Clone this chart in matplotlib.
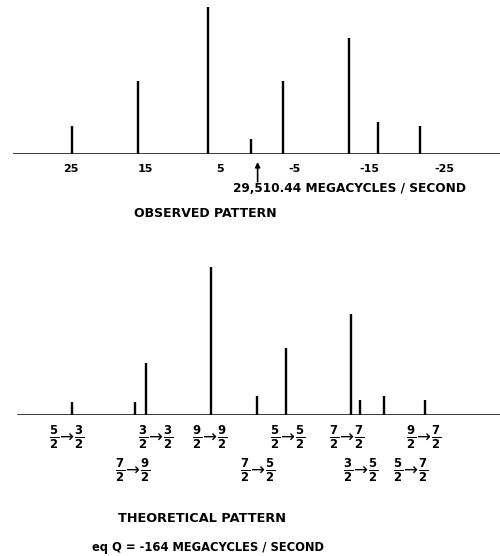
import numpy as np
import matplotlib.pyplot as plt

# observed pattern (frequency offset, relative intensity)
obs_freq = [24.9, 16.0, 6.6, 0.9, -3.4, -12.2, -16.2, -21.8]
obs_int = [19, 50, 100, 10, 50, 79, 22, 19]

# theoretical pattern
th_freq = [24.9, 16.4, 14.9, 6.3, 0.1, -3.8, -12.5, -13.7, -17.0, -22.5]
th_int = [9, 9, 35, 100, 13, 45, 68, 10, 13, 10]

tick_pos = [25, 15, 5, -5, -15, -25]
tick_labels = ['25', '15', '5', '-5', '-15', '-25']

# transition labels, row 1 and row 2
row1_pos = [25.6, 13.7, 6.4, -4.0, -12.0, -22.3]
row1_lab = [(5, 3), (3, 3), (9, 9), (5, 5), (7, 7), (9, 7)]
row2_pos = [16.8, 0.0, -13.8, -20.5]
row2_lab = [(7, 9), (7, 5), (3, 5), (5, 7)]

plt.rcParams['mathtext.fontset'] = 'dejavusans'

W, H = 500, 556
fig = plt.figure(figsize=(5, 5.56), dpi=100)

def px(x, y):
    return x / W, 1 - y / H

ax1 = fig.add_axes([13 / W, (H - 154) / H, 487 / W, 154 / H])
ax2 = fig.add_axes([13 / W, (H - 415) / H, 487 / W, 155 / H])

for ax in (ax1, ax2):
    ax.set_xlim(32.8, -32.5)
    for s in ax.spines.values():
        s.set_visible(False)
    ax.set_yticks([])

ax1.set_ylim(0, 104.8)
ax1.axhline(0, color='black', lw=1.8)
ax1.vlines(obs_freq, 0, obs_int, color='black', lw=1.7)
ax1.set_xticks(tick_pos)
ax1.set_xticklabels(tick_labels, fontsize=8, fontweight='bold')
ax1.tick_params(axis='x', length=0, pad=7)
ax1.annotate('', xy=(0, -5.5), xytext=(0, -19), xycoords='data',
             arrowprops=dict(arrowstyle='-|>', color='black', lw=1.2,
                             mutation_scale=7, shrinkA=0, shrinkB=0),
             annotation_clip=False)

ax2.set_ylim(0, 104.7)
ax2.axhline(0, xmin=5 / 487, color='black', lw=1.8)
ax2.vlines(th_freq, 0, th_int, color='black', lw=1.7)
ax2.set_xticks([])

def frac_label(a, b):
    return r'$\mathbf{\frac{%d}{2}}\!\rightarrow\!\mathbf{\frac{%d}{2}}$' % (a, b)

for f, (a, b) in zip(row1_pos, row1_lab):
    ax2.annotate(frac_label(a, b), xy=(f, 0), xytext=(0, -16), textcoords='offset points',
                 ha='center', va='center', fontsize=12, annotation_clip=False)
for f, (a, b) in zip(row2_pos, row2_lab):
    ax2.annotate(frac_label(a, b), xy=(f, 0), xytext=(0, -40), textcoords='offset points',
                 ha='center', va='center', fontsize=12, annotation_clip=False)

fig.text(*px(233, 189), '29,510.44 MEGACYCLES / SECOND', fontsize=8.7, fontweight='bold',
         ha='left', va='center')
fig.text(*px(205, 213), 'OBSERVED PATTERN', fontsize=9, fontweight='bold',
         ha='center', va='center')
fig.text(*px(202, 518), 'THEORETICAL PATTERN', fontsize=9.3, fontweight='bold',
         ha='center', va='center')
fig.text(*px(208, 547), 'eq Q = -164 MEGACYCLES / SECOND', fontsize=8.3, fontweight='bold',
         ha='center', va='center')

fig.savefig('out.png', dpi=100, facecolor='white')
